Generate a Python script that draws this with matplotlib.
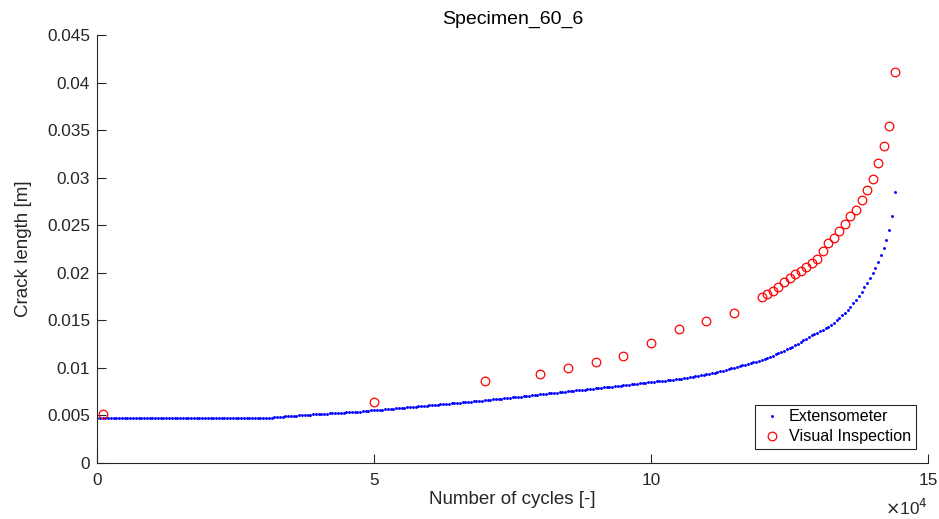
import numpy as np
import matplotlib
matplotlib.use("Agg")
import matplotlib.pyplot as plt

plt.rcParams['font.family'] = ['Liberation Sans', 'DejaVu Sans']

# ---- data ----
title = "Specimen_60_6"
x_label = "Number of cycles [-]"
y_label = "Crack length [m]"
legend_labels = ["Extensometer", "Visual Inspection"]

# Extensometer: crack length [m] sampled every 500 cycles from 0 to 144000
ext_step = 500
ext_length = [
    0.00474, 0.00473, 0.00473, 0.00473, 0.00474, 0.00473, 0.00473, 0.00473, 0.00473, 0.00473,
    0.00473, 0.00473, 0.00473, 0.00473, 0.00473, 0.00473, 0.00473, 0.00473, 0.00473, 0.00473,
    0.00473, 0.00473, 0.00473, 0.00473, 0.00473, 0.00473, 0.00473, 0.00473, 0.00473, 0.00473,
    0.00473, 0.00473, 0.00473, 0.00473, 0.00473, 0.00473, 0.00473, 0.00473, 0.00473, 0.00473,
    0.00473, 0.00473, 0.00473, 0.00473, 0.00473, 0.00473, 0.00473, 0.00473, 0.00473, 0.00473,
    0.00473, 0.00473, 0.00473, 0.00473, 0.00473, 0.00473, 0.00473, 0.00473, 0.00473, 0.00473,
    0.00473, 0.00474, 0.00475, 0.00477, 0.00479, 0.00481, 0.00484, 0.00486, 0.00489, 0.00491,
    0.00494, 0.00496, 0.00498, 0.00500, 0.00502, 0.00504, 0.00506, 0.00508, 0.00510, 0.00512,
    0.00514, 0.00516, 0.00518, 0.00520, 0.00521, 0.00523, 0.00525, 0.00527, 0.00528, 0.00530,
    0.00532, 0.00534, 0.00535, 0.00537, 0.00539, 0.00541, 0.00543, 0.00546, 0.00549, 0.00552,
    0.00555, 0.00557, 0.00560, 0.00562, 0.00565, 0.00567, 0.00570, 0.00572, 0.00575, 0.00577,
    0.00580, 0.00583, 0.00585, 0.00588, 0.00590, 0.00593, 0.00596, 0.00598, 0.00601, 0.00603,
    0.00606, 0.00609, 0.00611, 0.00614, 0.00617, 0.00619, 0.00622, 0.00625, 0.00628, 0.00630,
    0.00633, 0.00636, 0.00638, 0.00641, 0.00644, 0.00646, 0.00649, 0.00652, 0.00655, 0.00657,
    0.00660, 0.00663, 0.00666, 0.00669, 0.00672, 0.00675, 0.00678, 0.00681, 0.00684, 0.00687,
    0.00690, 0.00693, 0.00696, 0.00699, 0.00702, 0.00705, 0.00708, 0.00711, 0.00715, 0.00718,
    0.00721, 0.00724, 0.00727, 0.00731, 0.00734, 0.00737, 0.00740, 0.00743, 0.00747, 0.00750,
    0.00753, 0.00756, 0.00759, 0.00763, 0.00766, 0.00769, 0.00772, 0.00775, 0.00779, 0.00782,
    0.00785, 0.00788, 0.00791, 0.00795, 0.00798, 0.00801, 0.00804, 0.00807, 0.00811, 0.00814,
    0.00817, 0.00820, 0.00824, 0.00827, 0.00830, 0.00833, 0.00837, 0.00840, 0.00843, 0.00847,
    0.00850, 0.00853, 0.00857, 0.00860, 0.00863, 0.00866, 0.00870, 0.00873, 0.00876, 0.00880,
    0.00883, 0.00887, 0.00891, 0.00896, 0.00900, 0.00905, 0.00910, 0.00915, 0.00920, 0.00926,
    0.00932, 0.00938, 0.00945, 0.00951, 0.00958, 0.00964, 0.00971, 0.00978, 0.00986, 0.00995,
    0.01004, 0.01012, 0.01020, 0.01028, 0.01035, 0.01043, 0.01051, 0.01059, 0.01067, 0.01075,
    0.01083, 0.01094, 0.01106, 0.01118, 0.01130, 0.01143, 0.01156, 0.01169, 0.01182, 0.01194,
    0.01206, 0.01222, 0.01238, 0.01255, 0.01272, 0.01290, 0.01308, 0.01326, 0.01342, 0.01357,
    0.01372, 0.01388, 0.01403, 0.01418, 0.01434, 0.01451, 0.01474, 0.01499, 0.01526, 0.01553,
    0.01581, 0.01611, 0.01643, 0.01678, 0.01715, 0.01756, 0.01800, 0.01848, 0.01897, 0.01945,
    0.01998, 0.02055, 0.02118, 0.02185, 0.02261, 0.02345, 0.02447, 0.02600, 0.02852,
]
ext_cycles = np.arange(len(ext_length)) * ext_step

# Visual inspection
vis_cycles = [1000, 50000, 70000, 80000, 85000, 90000, 95000, 100000, 105000, 110000, 115000,
              120000, 121000, 122000, 123000, 124000, 125000, 126000, 127000, 128000, 129000,
              130000, 131000, 132000, 133000, 134000, 135000, 136000, 137000, 138000, 139000,
              140000, 141000, 142000, 143000, 144000]
vis_length = [0.00510, 0.00639, 0.00859, 0.00939, 0.00998, 0.01057, 0.01125, 0.01258, 0.01406, 0.01488, 0.01578,
              0.01741, 0.01778, 0.01813, 0.01852, 0.01904, 0.01942, 0.01989, 0.02023, 0.02058, 0.02100,
              0.02143, 0.02224, 0.02311, 0.02367, 0.02441, 0.02511, 0.02592, 0.02659, 0.02768, 0.02870,
              0.02990, 0.03158, 0.03337, 0.03541, 0.04110]

x_ticks = [0, 50000, 100000, 150000]
x_tick_labels = ["0", "5", "10", "15"]
y_ticks = [0, 0.005, 0.01, 0.015, 0.02, 0.025, 0.03, 0.035, 0.04, 0.045]
y_tick_labels = ["0", "0.005", "0.01", "0.015", "0.02", "0.025", "0.03", "0.035", "0.04", "0.045"]

# ---- plot ----
fig = plt.figure(figsize=(9.39, 5.19), dpi=100)
ax = fig.add_axes([97 / 939, 1 - 463 / 519, 831 / 939, 428 / 519])

dark = '#262626'
ax.plot(ext_cycles, ext_length, linestyle='none', marker='o', markersize=2.1,
        markeredgewidth=0, color=(0, 0, 1), label=legend_labels[0])
ax.plot(vis_cycles, vis_length, linestyle='none', marker='o', markersize=6.2,
        markerfacecolor='none', markeredgecolor=(1, 0, 0), markeredgewidth=0.9,
        label=legend_labels[1])

ax.set_xlim(0, 150000)
ax.set_ylim(0, 0.045)
ax.set_xticks(x_ticks)
ax.set_xticklabels(x_tick_labels)
ax.set_yticks(y_ticks)
ax.set_yticklabels(y_tick_labels)

for s in ['top', 'right']:
    ax.spines[s].set_visible(False)
for s in ['left', 'bottom']:
    ax.spines[s].set_color(dark)
    ax.spines[s].set_linewidth(0.8)

ax.tick_params(axis='both', direction='in', length=6.2, width=0.8, color=dark,
               labelcolor=dark, labelsize=12.4)
ax.tick_params(axis='x', pad=7)
ax.tick_params(axis='y', pad=5)

ax.set_xlabel(x_label, fontsize=13.5, color=dark, labelpad=2)
ax.set_ylabel(y_label, fontsize=13.5, color=dark, labelpad=11)
ax.set_title(title, fontsize=14, color='black', pad=8)

fig.text(928 / 939, 4 / 519, r'$\times$10$^{4}$', ha='right', va='baseline',
         fontsize=12.4, color=dark)

leg = ax.legend(loc='lower right', bbox_to_anchor=(0.9856, 0.0327), borderaxespad=0,
                fontsize=11.6, frameon=True, fancybox=False, framealpha=1,
                edgecolor=dark, handlelength=1.5, handletextpad=0.3,
                borderpad=0.3, labelspacing=0.3)
leg.get_frame().set_linewidth(0.8)

fig.savefig("out.png", dpi=100)
